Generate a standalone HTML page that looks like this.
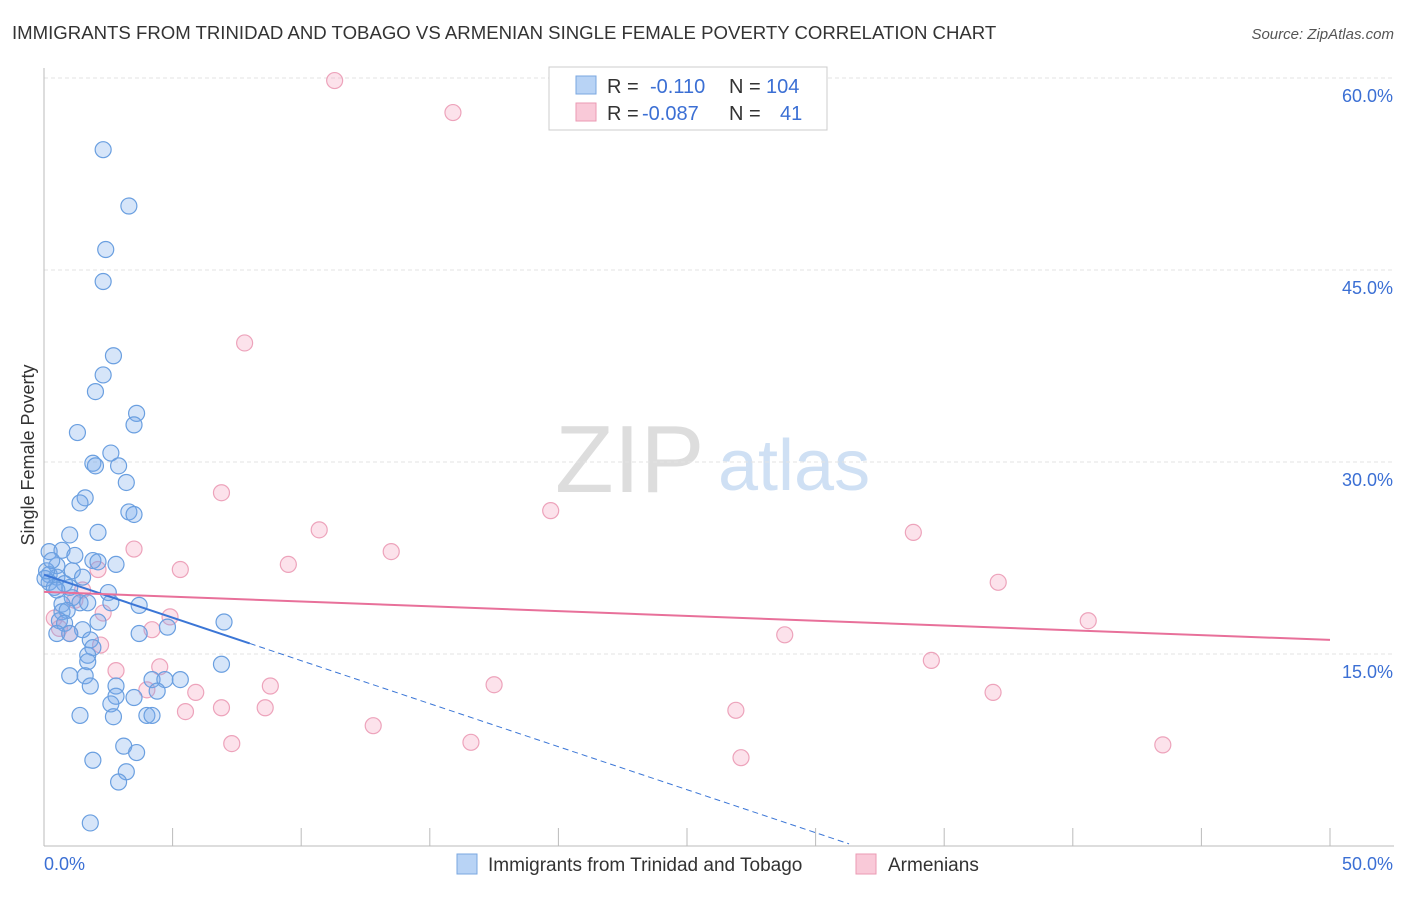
<!DOCTYPE html>
<html><head><meta charset="utf-8"><style>
body{margin:0;background:#fff;font-family:"Liberation Sans",sans-serif}
svg text{font-family:"Liberation Sans",sans-serif}
</style></head><body>
<svg id="chart" width="1406" height="892" xmlns="http://www.w3.org/2000/svg">
<text x="12" y="39" font-size="18.6" fill="#333">IMMIGRANTS FROM TRINIDAD AND TOBAGO VS ARMENIAN SINGLE FEMALE POVERTY CORRELATION CHART</text>
<text x="1394" y="39" font-size="15" fill="#555" font-style="italic" text-anchor="end">Source: ZipAtlas.com</text>
<text x="34" y="455" font-size="18" fill="#333" text-anchor="middle" transform="rotate(-90 34 455)">Single Female Poverty</text>
<text x="555" y="492" font-size="96" fill="#ddd" font-family="Liberation Serif">ZIP</text>
<text x="718" y="490" font-size="72" fill="#cfe0f4">atlas</text>
<g id="grid"></g><g id="axes"></g><g id="pts"></g><g id="trend"></g>
<g>
<rect x="549" y="67" width="278" height="63" fill="#fff" stroke="#ccc"/>
<rect x="576" y="76" width="20" height="18" fill="#b8d3f5" stroke="#7aa7e0"/>
<rect x="576" y="103" width="20" height="18" fill="#f9c9d8" stroke="#eb9ab3"/>
<text x="607" y="93" font-size="20" fill="#333">R = </text><text x="650" y="93" font-size="20" fill="#3b6fd4">-0.110</text>
<text x="729" y="93" font-size="20" fill="#333">N = </text><text x="766" y="93" font-size="20" fill="#3b6fd4">104</text>
<text x="607" y="120" font-size="20" fill="#333">R = </text><text x="642" y="120" font-size="20" fill="#3b6fd4">-0.087</text>
<text x="729" y="120" font-size="20" fill="#333">N = </text><text x="780" y="120" font-size="20" fill="#3b6fd4">41</text>
</g>
<g>
<rect x="457" y="854" width="20" height="20" fill="#b8d3f5" stroke="#7aa7e0"/>
<text x="488" y="871" font-size="19" fill="#333">Immigrants from Trinidad and Tobago</text>
<rect x="856" y="854" width="20" height="20" fill="#f9c9d8" stroke="#eb9ab3"/>
<text x="888" y="871" font-size="19" fill="#333">Armenians</text>
</g>
</svg>
<script>
const yTicks=[15,30,45,60];
const yTickLabels=["15.0%","30.0%","45.0%","60.0%"];
const xTicks=[0,5,10,15,20,25,30,35,40,45,50];
const blueX=[2.3,3.3,2.4,2.3,2.7,2.3,2.0,3.6,3.5,1.3,2.6,1.9,2.0,2.9,3.2,1.6,1.4,3.3,3.5,1.0,2.1,0.2,0.7,1.2,1.9,2.1,2.8,0.5,1.1,0.2,0.5,1.5,0.2,0.8,0.4,1.0,2.5,1.1,1.4,1.7,0.7,0.7,0.9,2.6,3.7,0.6,0.8,2.1,1.5,1.0,0.5,3.7,4.8,7.0,1.8,1.9,1.7,1.7,6.9,1.0,1.6,1.8,2.8,4.2,4.7,5.3,4.4,3.5,2.8,2.6,4.0,4.2,1.4,2.7,3.1,3.6,1.9,3.2,2.9,1.8,0.04,0.1,0.3,0.5];
const blueY=[54.4,50.0,46.6,44.1,38.3,36.8,35.5,33.8,32.9,32.3,30.7,29.9,29.7,29.7,28.4,27.2,26.8,26.1,25.9,24.3,24.5,23.0,23.1,22.7,22.3,22.2,22.0,21.9,21.5,21.2,21.0,21.0,20.6,20.5,20.2,20.2,19.8,19.4,19.0,19.0,18.9,18.3,18.4,19.0,18.8,17.6,17.4,17.5,16.9,16.6,16.6,16.6,17.1,17.5,16.1,15.5,14.9,14.4,14.2,13.3,13.3,12.5,12.5,13.0,13.0,13.0,12.1,11.6,11.7,11.1,10.2,10.2,10.2,10.1,7.8,7.3,6.7,5.8,5.0,1.8,20.9,21.5,22.3,20.0];
const pinkX=[11.3,15.9,7.8,6.9,19.7,10.7,33.8,13.5,3.5,9.5,5.3,2.1,37.1,0.4,1.0,4.9,4.2,2.3,1.5,2.2,2.8,4.5,4.0,5.9,8.8,28.8,34.5,36.9,40.6,17.5,5.5,6.9,8.6,12.8,26.9,16.6,7.3,27.1,43.5,0.6,1.2];
const pinkY=[59.8,57.3,39.3,27.6,26.2,24.7,24.5,23.0,23.2,22.0,21.6,21.6,20.6,17.8,16.6,17.9,16.9,18.2,20.0,15.7,13.7,14.0,12.2,12.0,12.5,16.5,14.5,12.0,17.6,12.6,10.5,10.8,10.8,9.4,10.6,8.1,8.0,6.9,7.9,17.0,19.2];
const NS="http://www.w3.org/2000/svg";
const X=v=>44+v*25.72, Y=v=>846-v*12.8;
function mk(t,a,p){const e=document.createElementNS(NS,t);for(const k in a)e.setAttribute(k,a[k]);p.appendChild(e);return e;}
const grid=document.getElementById('grid'),axes=document.getElementById('axes'),pts=document.getElementById('pts'),tr=document.getElementById('trend');
yTicks.forEach((t,i)=>{
 const l=mk('line',{x1:44,x2:1394,y1:Y(t),y2:Y(t),stroke:'#e3e3e3','stroke-dasharray':'4,3'},grid);
 
 
 const tx=mk('text',{x:1393,y:Y(t)+24,'font-size':18,fill:'#3b6fd4','text-anchor':'end'},axes);tx.textContent=yTickLabels[i];
 
 
});
const ax=mk('line',{x1:44,x2:1394,y1:846,y2:846,stroke:'#bbb'},axes);


const ay=mk('line',{x1:44,x2:44,y1:68,y2:846,stroke:'#bbb'},axes);


xTicks.forEach(t=>{const l=mk('line',{x1:X(t),x2:X(t),y1:828,y2:846,stroke:'#bbb'},axes);
 
 });
[["0.0%",44,'start'],["50.0%",1393,'end']].forEach(a=>{const t=mk('text',{x:a[1],y:870,'font-size':18,fill:'#3b6fd4','text-anchor':a[2]},axes);t.textContent=a[0];
 
 });
pinkX.forEach((v,i)=>{const c=mk('circle',{cx:X(v),cy:Y(pinkY[i]),r:8,fill:'rgba(244,160,190,0.3)',stroke:'#eda3bb','stroke-width':1.2},pts);
 
 });
blueX.forEach((v,i)=>{const c=mk('circle',{cx:X(v),cy:Y(blueY[i]),r:8,fill:'rgba(120,170,235,0.3)',stroke:'#6a9fe0','stroke-width':1.2},pts);
 
 });
const bA=21.2,bS=-0.672,pA=19.85,pS=-0.075;
const t1=mk('line',{x1:X(0),y1:Y(bA),x2:X(8),y2:Y(bA+bS*8),stroke:'#3b76d6','stroke-width':2},tr);


const t2=mk('line',{x1:X(8),y1:Y(bA+bS*8),x2:X(31.3),y2:Y(bA+bS*31.3),stroke:'#3b76d6','stroke-width':1,'stroke-dasharray':'6,4'},tr);


const t3=mk('line',{x1:X(0),y1:Y(pA),x2:X(50),y2:Y(pA+pS*50),stroke:'#e8709a','stroke-width':2},tr);


</script>
</body></html>
